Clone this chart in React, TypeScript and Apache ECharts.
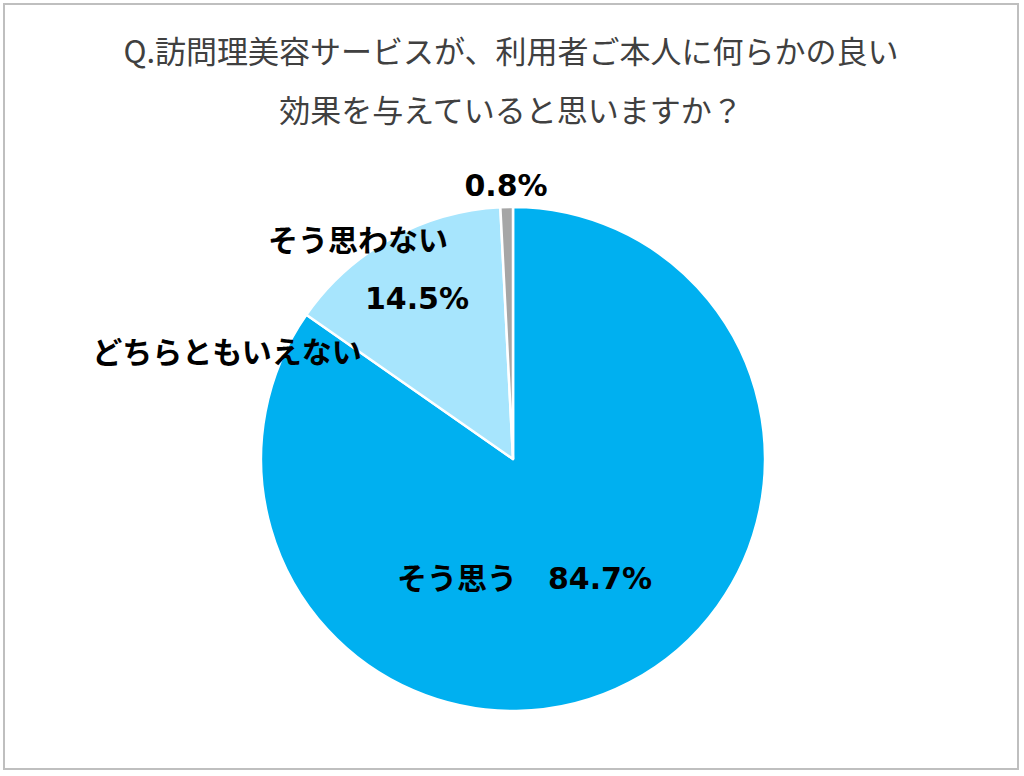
import React, { useEffect, useRef } from "react";
import * as echarts from "echarts";

const titleLines = [
  "Q.訪問理美容サービスが、利用者ご本人に何らかの良い",
  "効果を与えていると思いますか？",
];
const categories = ["そう思う", "どちらともいえない", "そう思わない"];
const values = [84.7, 14.5, 0.8];
const colors = ["#00B0F0", "#A7E5FD", "#A6A6A6"];

const labelFont = "'DejaVu Sans', 'Noto Sans CJK JP', sans-serif";

export default function App() {
  const ref = useRef<HTMLDivElement>(null);
  useEffect(() => {
    if (!ref.current) return;
    const chart = echarts.init(ref.current, undefined, { renderer: "svg" });
    const pct = (i: number) => values[i].toFixed(1) + "%";
    const lbl = (text: string, x: number, y: number) => ({
      type: "text",
      x,
      y,
      z: 100,
      style: {
        text,
        fill: "#000000",
        font: `bold 30px ${labelFont}`,
        textAlign: "center",
        textVerticalAlign: "middle",
      },
    });
    chart.setOption({
      animation: false,
      backgroundColor: "#ffffff",
      graphic: [
        {
          type: "rect",
          z: 100,
          shape: { x: 4, y: 4, width: 1014, height: 765 },
          style: { fill: "none", stroke: "#BFBFBF", lineWidth: 2 },
        },
        ...titleLines.map((t, i) => ({
          type: "text",
          x: 511,
          y: 49 + i * 59,
          z: 100,
          style: {
            text: t,
            fill: "#404040",
            font: "31px 'Noto Sans CJK JP', sans-serif",
            textAlign: "center",
            textVerticalAlign: "middle",
          },
        })),
        lbl(pct(2), 506, 185),
        lbl(categories[2], 358, 240),
        lbl(pct(1), 417, 298),
        lbl(categories[1], 227, 352),
        lbl(categories[0], 457, 578),
        lbl(pct(0), 600, 578),
      ],
      series: [
        {
          type: "pie",
          center: [513, 459],
          radius: 252,
          startAngle: 90,
          clockwise: true,
          z: 2,
          label: { show: false },
          labelLine: { show: false },
          emphasis: { disabled: true },
          itemStyle: { borderColor: "#ffffff", borderWidth: 2.5 },
          data: categories.map((c, i) => ({
            name: c,
            value: values[i],
            itemStyle: { color: colors[i] },
          })),
        },
      ],
    });
    return () => chart.dispose();
  }, []);
  return (
    <div
      ref={ref}
      style={{ position: "fixed", left: 0, top: 0, width: 1024, height: 776 }}
    />
  );
}
